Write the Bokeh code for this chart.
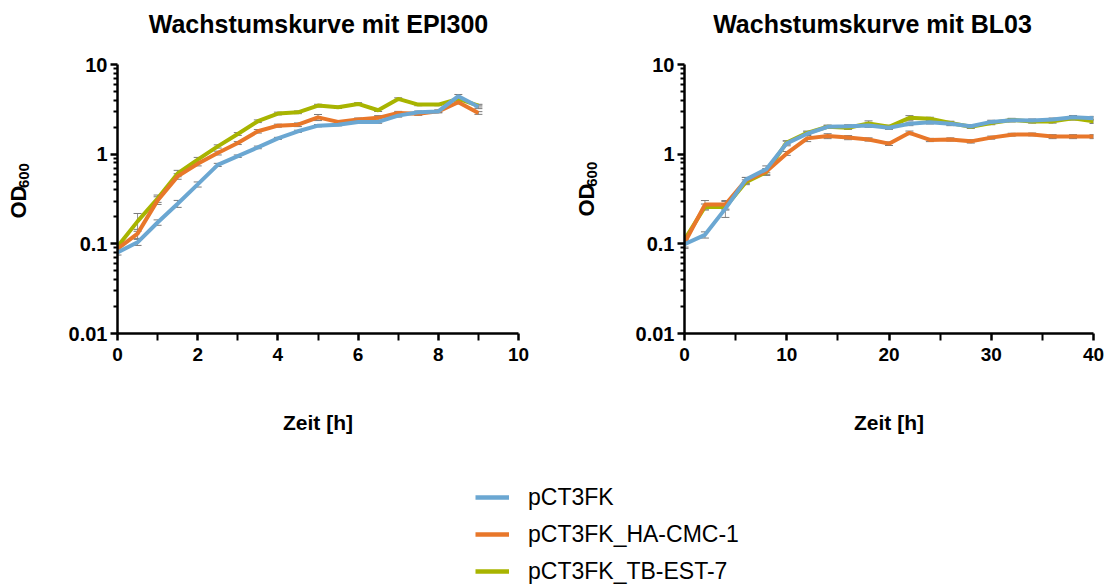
import math
from bokeh.plotting import figure
from bokeh.models import (Range1d, FixedTicker, CustomJSTickFormatter, Whisker, TeeHead,
                          ColumnDataSource, Legend, LegendItem)
from bokeh.core.properties import value
from bokeh.layouts import column, row
from bokeh.embed import file_html
from bokeh.resources import INLINE

FONT = "Liberation Sans"

series_names = ["pCT3FK", "pCT3FK_HA-CMC-1", "pCT3FK_TB-EST-7"]
colors = ["#6BA7D2", "#E8772A", "#A8B400"]

# ---- EPI300 ----
t_epi = [0, 0.5, 1, 1.5, 2, 2.5, 3, 3.5, 4, 4.5, 5, 5.5, 6, 6.5, 7, 7.5, 8, 8.5, 9]
epi_blue = [0.080, 0.104, 0.173, 0.28, 0.46, 0.76, 0.95, 1.19, 1.50, 1.80, 2.08, 2.13, 2.29, 2.29, 2.69, 2.93, 3.00, 4.43, 3.37]
epi_orange = [0.088, 0.13, 0.305, 0.565, 0.78, 1.03, 1.33, 1.80, 2.08, 2.13, 2.57, 2.29, 2.43, 2.54, 2.88, 2.83, 3.00, 3.79, 2.88]
epi_green = [0.093, 0.178, 0.32, 0.61, 0.87, 1.22, 1.68, 2.33, 2.84, 2.93, 3.48, 3.33, 3.63, 3.09, 4.13, 3.57, 3.57, 4.13, 3.48]
epi_blue_sd = [0.005, 0.008, 0.012, 0.025, 0.03, 0.03, 0.03, 0.04, 0.04, 0.05, 0.06, 0.06, 0.08, 0.08, 0.1, 0.1, 0.1, 0.2, 0.15]
epi_orange_sd = [0.006, 0.015, 0.03, 0.04, 0.04, 0.05, 0.05, 0.08, 0.08, 0.1, 0.2, 0.08, 0.1, 0.15, 0.12, 0.12, 0.1, 0.15, 0.1]
epi_green_sd = [0.006, 0.04, 0.03, 0.05, 0.05, 0.05, 0.06, 0.08, 0.1, 0.1, 0.12, 0.1, 0.12, 0.1, 0.12, 0.1, 0.1, 0.15, 0.12]

# ---- BL03 ----
t_bl = [0, 2, 4, 6, 8, 10, 12, 14, 16, 18, 20, 22, 24, 26, 28, 30, 32, 34, 36, 38, 40]
bl_blue = [0.099, 0.126, 0.247, 0.52, 0.68, 1.32, 1.69, 2.02, 2.05, 2.09, 1.97, 2.18, 2.27, 2.18, 2.05, 2.29, 2.39, 2.37, 2.43, 2.58, 2.52]
bl_orange = [0.102, 0.274, 0.274, 0.51, 0.64, 1.02, 1.50, 1.59, 1.53, 1.46, 1.31, 1.73, 1.44, 1.46, 1.39, 1.53, 1.65, 1.66, 1.57, 1.57, 1.57]
bl_green = [0.111, 0.258, 0.258, 0.487, 0.63, 1.35, 1.73, 2.02, 1.97, 2.20, 2.02, 2.54, 2.48, 2.23, 2.02, 2.23, 2.41, 2.32, 2.32, 2.52, 2.32]
bl_blue_sd = [0.01, 0.01, 0.05, 0.03, 0.06, 0.08, 0.08, 0.08, 0.08, 0.1, 0.08, 0.1, 0.1, 0.1, 0.08, 0.1, 0.1, 0.1, 0.1, 0.12, 0.12]
bl_orange_sd = [0.01, 0.03, 0.03, 0.04, 0.05, 0.05, 0.12, 0.1, 0.08, 0.06, 0.06, 0.08, 0.06, 0.06, 0.06, 0.06, 0.06, 0.06, 0.08, 0.08, 0.08]
bl_green_sd = [0.01, 0.02, 0.02, 0.03, 0.05, 0.06, 0.08, 0.08, 0.08, 0.15, 0.08, 0.15, 0.1, 0.1, 0.08, 0.1, 0.1, 0.1, 0.1, 0.12, 0.12]

y_ticks = [0.01, 0.1, 1, 10]
y_minor = [m * d for d in [0.01, 0.1, 1] for m in range(2, 10)]
epi_xticks = [0, 2, 4, 6, 8, 10]
epi_xminor = [1, 3, 5, 7, 9]
bl_xticks = [0, 10, 20, 30, 40]
bl_xminor = [5, 15, 25, 35]

titles = ["Wachstumskurve mit EPI300", "Wachstumskurve mit BL03"]
y_label_main = "OD"
y_label_sub = "600"
x_label = "Zeit [h]"


def text_fig(x0, y0, w, h):
    """A blank strip; x = page pixel, y = minus page pixel (so y grows upward)."""
    f = figure(width=w, height=h, toolbar_location=None, output_backend="svg",
               x_axis_type=None, y_axis_type=None, min_border=0,
               x_range=Range1d(x0, x0 + w), y_range=Range1d(-(y0 + h), -y0))
    f.outline_line_color = None
    f.xgrid.visible = False
    f.ygrid.visible = False
    return f


def add_text(f, x, page_y, txt, size, angle=0.0):
    f.text(x=[x], y=[-page_y], text=[txt], angle=angle, text_font=value(FONT),
           text_font_size=size, text_font_style="bold",
           text_color="black", text_align="center", text_baseline="middle")


def make_plot(t, ys, sds, xmax, xticks, xminor, width, height, bl, br, bt, bb):
    p = figure(width=width, height=height, y_axis_type="log",
               x_range=Range1d(0, xmax), y_range=Range1d(0.01, 10),
               toolbar_location=None, output_backend="svg",
               min_border_left=bl, min_border_right=br, min_border_top=bt, min_border_bottom=bb)
    p.xgrid.visible = False
    p.ygrid.visible = False
    p.outline_line_color = None

    # draw order: green, orange, blue
    for idx in [2, 1, 0]:
        p.line(t, ys[idx], line_color=colors[idx], line_width=4)
    for idx in [2, 1, 0]:
        y = ys[idx]
        sd = sds[idx]
        src = ColumnDataSource(dict(t=t, up=[a + b for a, b in zip(y, sd)],
                                    lo=[a - b for a, b in zip(y, sd)]))
        w = Whisker(base="t", upper="up", lower="lo", source=src,
                    line_color="#8f8f8f", line_width=1,
                    upper_head=TeeHead(size=8, line_color="#7a7a7a", line_width=1),
                    lower_head=TeeHead(size=8, line_color="#7a7a7a", line_width=1))
        p.add_layout(w)

    for ax in (p.xaxis[0], p.yaxis[0]):
        ax.axis_line_width = 2.5
        ax.axis_line_color = "black"
        ax.major_tick_line_width = 2.5
        ax.major_tick_line_color = "black"
        ax.minor_tick_line_width = 2
        ax.minor_tick_line_color = "black"
        ax.major_tick_in = 0
        ax.minor_tick_in = 0
        ax.major_tick_out = 7
        ax.major_label_text_font = FONT
        ax.major_label_text_font_style = "bold"
        ax.major_label_text_color = "black"
        ax.axis_label_text_font = FONT
        ax.axis_label_text_font_size = "21px"
        ax.axis_label_text_font_style = "bold"
        ax.axis_label_text_color = "black"

    p.xaxis.ticker = FixedTicker(ticks=xticks, minor_ticks=xminor)
    p.xaxis.minor_tick_out = 7
    p.xaxis.major_label_text_font_size = "19px"
    p.xaxis.major_label_standoff = 7
    p.xaxis.axis_label = x_label
    p.xaxis.axis_label_standoff = 47

    p.yaxis.ticker = FixedTicker(ticks=y_ticks, minor_ticks=y_minor)
    p.yaxis.formatter = CustomJSTickFormatter(code="return tick.toString();")
    p.yaxis.minor_tick_out = 4
    p.yaxis.major_label_text_font_size = "20px"
    p.yaxis.major_label_standoff = 3
    return p


TOP = 44
# title strips (centre of each title)
t1 = text_fig(0, 0, 560, TOP)
add_text(t1, 318, 23, titles[0], "25px")
t2 = text_fig(560, 0, 549, TOP)
add_text(t2, 872, 23, titles[1], "25px")

# y-label strips (rotated texts; anchors corrected for bokeh's rotated-anchor offset)
lab1 = text_fig(0, TOP, 40, 440 - TOP)
add_text(lab1, 17.5, 246.5, y_label_main, "22px", angle=math.pi / 2)
add_text(lab1, 23.5, 207.5, y_label_sub, "15px", angle=math.pi / 2)
lab2 = text_fig(560, TOP, 40, 440 - TOP)
add_text(lab2, 585.5, 243.5, y_label_main, "22px", angle=math.pi / 2)
add_text(lab2, 591.5, 205.5, y_label_sub, "15px", angle=math.pi / 2)

p1 = make_plot(t_epi, [epi_blue, epi_orange, epi_green],
               [epi_blue_sd, epi_orange_sd, epi_green_sd],
               10, epi_xticks, epi_xminor, 520, 440 - TOP, 77, 42, 64 - TOP, 107)
p2 = make_plot(t_bl, [bl_blue, bl_orange, bl_green],
               [bl_blue_sd, bl_orange_sd, bl_green_sd],
               40, bl_xticks, bl_xminor, 509, 440 - TOP, 84, 16, 61 - TOP, 107)

lg = figure(width=1109, height=144, toolbar_location=None, output_backend="svg",
            x_axis_type=None, y_axis_type=None, min_border=0,
            x_range=Range1d(0, 1), y_range=Range1d(0, 1))
lg.outline_line_color = None
lg.xgrid.visible = False
lg.ygrid.visible = False
items = []
for name, c in zip(series_names, colors):
    # placeholder renderers (outside the visible range) that only carry the legend glyph style
    r = lg.line(x=[-2, -1], y=[-2, -1], line_color=c, line_width=4.5)
    items.append(LegendItem(label=name, renderers=[r]))
legend = Legend(items=items, location=(475, -1), orientation="vertical",
                border_line_color=None, background_fill_alpha=0, padding=0, margin=0,
                spacing=9, glyph_width=34, glyph_height=28, label_height=28,
                label_standoff=19, label_text_font=FONT, label_text_font_size="23px",
                label_text_color="black")
lg.add_layout(legend)

layout = column(row(t1, t2), row(lab1, p1, lab2, p2), lg)
open("out.html", "w").write(file_html(layout, INLINE))
